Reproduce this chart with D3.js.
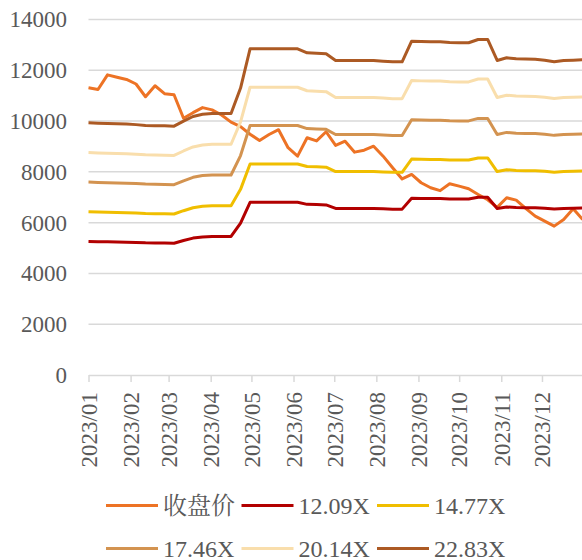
<!DOCTYPE html>
<html><head><meta charset="utf-8">
<script src="https://cdn.jsdelivr.net/npm/d3@7"></script>
<style>html,body{margin:0;padding:0;background:#fff;}svg{display:block;}</style>
</head><body>
<svg id="chart" width="582" height="560"></svg>
<script>
const dates = ["2023-01-01","2023-01-08","2023-01-15","2023-01-22","2023-01-29",
"2023-02-05","2023-02-12","2023-02-19","2023-02-26",
"2023-03-05","2023-03-12","2023-03-19","2023-03-26",
"2023-04-02","2023-04-09","2023-04-16","2023-04-23","2023-04-30",
"2023-05-07","2023-05-14","2023-05-21","2023-05-28",
"2023-06-04","2023-06-11","2023-06-18","2023-06-25",
"2023-07-02","2023-07-09","2023-07-16","2023-07-23","2023-07-30",
"2023-08-06","2023-08-13","2023-08-20","2023-08-27",
"2023-09-03","2023-09-10","2023-09-17","2023-09-24",
"2023-10-01","2023-10-08","2023-10-15","2023-10-22","2023-10-29",
"2023-11-05","2023-11-12","2023-11-19","2023-11-26",
"2023-12-03","2023-12-10","2023-12-17","2023-12-24","2023-12-31"];

const closePrice = [11311,11244,11820,11728,11638,11460,10957,11390,11080,11035,
10110,10330,10530,10440,10240,9960,9780,9480,9236,9470,
9660,8950,8618,9343,9220,9579,9039,9209,8776,8854,
9012,8618,8161,7720,7898,7571,7374,7260,7531,7437,
7335,7110,6900,6600,6980,6886,6560,6256,6059,5862,
6126,6550,6126];

const pe1209 = [5260,5251,5243,5237,5232,5222,5206,5200,5198,5190,
5296,5391,5439,5455,5455,5455,5984,6803,6803,6803,
6803,6803,6803,6720,6710,6699,6559,6559,6559,6559,
6559,6546,6532,6532,6962,6953,6949,6949,6932,6928,
6928,6997,6997,6559,6615,6595,6588,6583,6566,6535,
6559,6567,6573];

const pe1477 = [6426,6415,6405,6398,6392,6379,6360,6353,6350,6340,
6470,6586,6644,6664,6664,6664,7311,8311,8311,8311,
8311,8311,8311,8209,8197,8184,8013,8013,8013,8013,
8013,7997,7980,7980,8505,8495,8490,8490,8469,8464,
8464,8548,8548,8013,8082,8057,8048,8042,8021,7983,
8013,8022,8031];

const pe1746 = [7597,7583,7571,7564,7556,7541,7518,7510,7506,7495,
7648,7785,7854,7877,7877,7877,8642,9824,9824,9824,
9824,9824,9824,9704,9690,9674,9473,9473,9473,9473,
9473,9453,9434,9434,10054,10042,10036,10036,10011,10006,
10006,10105,10105,9473,9554,9524,9514,9506,9482,9437,
9473,9483,9493];

const pe2014 = [8763,8747,8733,8725,8716,8698,8672,8663,8658,8645,
8822,8981,9060,9086,9086,9086,9969,11332,11332,11332,
11332,11332,11332,11194,11177,11159,10927,10927,10927,10927,
10927,10904,10882,10882,11597,11583,11576,11576,11548,11542,
11542,11656,11656,10927,11020,10986,10974,10965,10937,10886,
10927,10939,10950];

const pe2283 = [9933,9915,9900,9890,9880,9860,9830,9820,9815,9800,
10000,10180,10270,10300,10300,10300,11300,12846,12846,12846,
12846,12846,12846,12689,12670,12650,12386,12386,12386,12386,
12386,12360,12335,12335,13146,13130,13122,13122,13090,13083,
13083,13213,13213,12386,12492,12453,12440,12430,12398,12340,
12386,12400,12413];

const seriesNames = ["收盘价","12.09X","14.77X","17.46X","20.14X","22.83X"];
const seriesValues = [closePrice, pe1209, pe1477, pe1746, pe2014, pe2283];
const seriesColors = ["#ED7325","#B20000","#F0BE00","#D39350","#F9DEAC","#AC5A24"];
const yTicks = [0,2000,4000,6000,8000,10000,12000,14000];

const parse = d3.timeParse("%Y-%m-%d");
const dateObjs = dates.map(parse);

const svg = d3.select("#chart");
const font = "'Times New Roman','Liberation Serif','Noto Serif CJK SC','Noto Sans CJK SC',serif";
const textColor = "#595959";
const gridColor = "#d9d9d9";

const x = d3.scaleTime()
  .domain([parse("2023-01-01"), parse("2023-12-31")])
  .range([88.5, 582.7]);
const y = d3.scaleLinear().domain([0,14000]).range([375, 19.5]);

// gridlines
svg.append("g").selectAll("line").data(yTicks.filter(d=>d>0)).join("line")
  .attr("x1", 88.5).attr("x2", 582)
  .attr("y1", d=>y(d)).attr("y2", d=>y(d))
  .attr("stroke", gridColor).attr("stroke-width", 1.5);

// y axis labels
const yAxis = d3.axisLeft(y).tickValues(yTicks).tickSize(0).tickPadding(21.5).tickFormat(d3.format("d"));
const gy = svg.append("g").attr("transform","translate(88.5,0)").call(yAxis);
gy.select(".domain").remove();
gy.selectAll("text").attr("font-family", font).attr("font-size", 23).attr("fill", textColor);

// x axis
const xAxis = d3.axisBottom(x).ticks(d3.timeMonth.every(1)).tickSize(7).tickSizeOuter(0).tickFormat(d3.timeFormat("%Y/%m"));
const gx = svg.append("g").attr("transform", `translate(0,${y(0)})`).call(xAxis);
gx.select(".domain").attr("stroke", gridColor).attr("stroke-width", 1.5);
gx.selectAll(".tick line").attr("stroke", gridColor).attr("stroke-width", 1.5);
gx.selectAll(".tick text")
  .attr("font-family", font).attr("font-size", 23).attr("fill", textColor)
  .attr("text-anchor","end")
  .attr("transform","rotate(-90)")
  .attr("x", -17).attr("y", 0).attr("dy", "0.34em");

// lines
const line = d3.line().x((d,i)=>x(dateObjs[i])).y(d=>y(d));
svg.append("g").selectAll("path").data(seriesValues).join("path")
  .attr("d", d=>line(d))
  .attr("fill","none")
  .attr("stroke",(d,i)=>seriesColors[i])
  .attr("stroke-width", 3)
  .attr("stroke-linejoin","round")
  .attr("stroke-linecap","butt");

// legend
const legCols = [106, 241.5, 377];
const legRows = [505.5, 548.5];
const leg = svg.append("g").selectAll("g").data(seriesNames).join("g")
  .attr("transform",(d,i)=>`translate(${legCols[i%3]},${legRows[Math.floor(i/3)]})`);
leg.append("line").attr("x1",0).attr("x2",52).attr("y1",0).attr("y2",0)
  .attr("stroke",(d,i)=>seriesColors[i]).attr("stroke-width",3);
leg.append("text").attr("x",57).attr("y",0).attr("dy","0.34em")
  .attr("font-family", font).attr("font-size", 24).attr("fill", textColor)
  .text(d=>d);
</script>
</body></html>
